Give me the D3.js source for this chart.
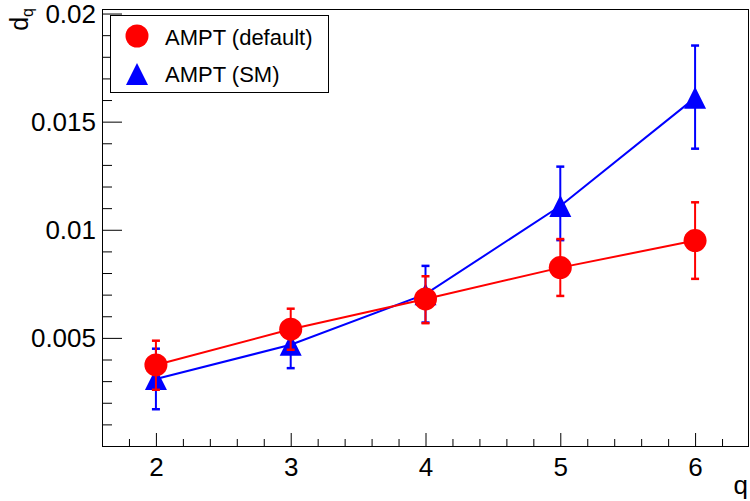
<!DOCTYPE html>
<html><head><meta charset="utf-8">
<script src="https://cdn.jsdelivr.net/npm/d3@7"></script>
<style>html,body{margin:0;padding:0;background:#fff;} svg{display:block;font-family:"Liberation Sans",Arial,Helvetica,sans-serif;}</style>
</head><body>
<svg id="c" width="750" height="501"></svg>
<script>
const qValues = [2, 3, 4, 5, 6];
const defaultValues = [0.00375, 0.0054, 0.0068, 0.00825, 0.0095];
const defaultErrHigh = [0.00112, 0.00095, 0.00105, 0.00132, 0.00177];
const defaultErrLow  = [0.00115, 0.00095, 0.00112, 0.00131, 0.00177];
const smValues = [0.0031, 0.00468, 0.00702, 0.0111, 0.0161];
const smErrHigh = [0.0014, 0.00108, 0.00131, 0.00182, 0.00242];
const smErrLow  = [0.0014, 0.00108, 0.00131, 0.00158, 0.00235];
const xTickValues = [2, 3, 4, 5, 6];
const yTickValues = [0.005, 0.01, 0.015, 0.02];
const yTickLabels = ["0.005", "0.01", "0.015", "0.02"];
const seriesNames = ["AMPT (default)", "AMPT (SM)"];

const svg = d3.select("#c");
const L = 102, R = 749, T = 9, B = 446;
const x = d3.scaleLinear().domain([1.6, 6.4]).range([L, R]);
const y = d3.scaleLinear().domain([0, 0.02021]).range([B, T]);

// frame
svg.append("rect").attr("x", L + 0.5).attr("y", T + 0.5).attr("width", R - L - 1).attr("height", B - T)
  .attr("fill", "none").attr("stroke", "#000").attr("stroke-width", 1);

// x axis ticks (inward)
const xMinor = d3.range(1.8, 6.4, 0.2).map(v => +v.toFixed(1)).filter(v => !xTickValues.includes(v));
const xAxisMajor = d3.axisBottom(x).tickValues(xTickValues).tickSizeInner(-13).tickSizeOuter(0).tickFormat("");
const xAxisMinor = d3.axisBottom(x).tickValues(xMinor).tickSizeInner(-7).tickSizeOuter(0).tickFormat("");
[xAxisMinor, xAxisMajor].forEach(ax => {
  const g = svg.append("g").attr("transform", `translate(0,${B})`).call(ax);
  g.select(".domain").remove();
  g.selectAll("line").attr("stroke", "#000");
});
const xl = svg.append("g").attr("transform", `translate(0,${B})`)
  .call(d3.axisBottom(x).tickValues(xTickValues).tickSize(0).tickPadding(0).tickFormat(d3.format("d")));
xl.select(".domain").remove();
xl.selectAll("text").attr("font-size", 26).attr("font-family", "Liberation Sans, Arial, sans-serif")
  .attr("fill", "#000").attr("dy", null).attr("y", 30);

// y axis ticks (inward)
const yMinor = d3.range(0.001, 0.0201, 0.001).map(v => +v.toFixed(3)).filter(v => !yTickValues.some(t => Math.abs(t - v) < 1e-9));
const yAxisMajor = d3.axisLeft(y).tickValues(yTickValues).tickSizeInner(-20).tickSizeOuter(0).tickFormat("");
const yAxisMinor = d3.axisLeft(y).tickValues(yMinor).tickSizeInner(-10).tickSizeOuter(0).tickFormat("");
[yAxisMinor, yAxisMajor].forEach(ax => {
  const g = svg.append("g").attr("transform", `translate(${L},0)`).call(ax);
  g.select(".domain").remove();
  g.selectAll("line").attr("stroke", "#000");
});
const yl = svg.append("g").attr("transform", `translate(${L},0)`)
  .call(d3.axisLeft(y).tickValues(yTickValues).tickSize(0).tickPadding(6).tickFormat((d, i) => yTickLabels[i]));
yl.select(".domain").remove();
yl.selectAll("text").attr("font-size", 26).attr("font-family", "Liberation Sans, Arial, sans-serif")
  .attr("fill", "#000").attr("dy", "0.35em");

// axis titles
svg.append("text").attr("x", 748).attr("y", 494).attr("text-anchor", "end")
  .attr("font-size", 26).text("q");
const yt = svg.append("text").attr("transform", `translate(28,8) rotate(-90)`).attr("text-anchor", "end")
  .attr("font-size", 25);
yt.append("tspan").text("d");
yt.append("tspan").attr("font-size", 16).attr("dy", 5).text("q");

// series
const series = [
  {name: seriesNames[1], vals: smValues, hi: smErrHigh, lo: smErrLow, color: "#0000ff", marker: "tri"},
  {name: seriesNames[0], vals: defaultValues, hi: defaultErrHigh, lo: defaultErrLow, color: "#ff0000", marker: "circ"}
];
const triPath = (cx, cy, s) => `M${cx},${cy - s}L${cx + s},${cy + s}L${cx - s},${cy + s}Z`;

series.forEach(s => {
  const pts = qValues.map((q, i) => ({q, v: s.vals[i], hi: s.hi[i], lo: s.lo[i]}));
  const g = svg.append("g");
  g.append("path").datum(pts)
    .attr("d", d3.line().x(d => x(d.q)).y(d => y(d.v)))
    .attr("fill", "none").attr("stroke", s.color).attr("stroke-width", 2);
  const eb = g.selectAll(".eb").data(pts).enter().append("g");
  eb.append("line").attr("x1", d => x(d.q)).attr("x2", d => x(d.q))
    .attr("y1", d => y(d.v + d.hi)).attr("y2", d => y(d.v - d.lo))
    .attr("stroke", s.color).attr("stroke-width", 2);
  [d => y(d.v + d.hi), d => y(d.v - d.lo)].forEach(fy => {
    eb.append("line").attr("x1", d => x(d.q) - 4).attr("x2", d => x(d.q) + 4)
      .attr("y1", fy).attr("y2", fy).attr("stroke", s.color).attr("stroke-width", 2.5);
  });
  if (s.marker === "circ") {
    g.selectAll(".m").data(pts).enter().append("circle")
      .attr("cx", d => x(d.q)).attr("cy", d => y(d.v)).attr("r", 11.5).attr("fill", s.color);
  } else {
    g.selectAll(".m").data(pts).enter().append("path")
      .attr("d", d => triPath(x(d.q), y(d.v), 11)).attr("fill", s.color);
  }
});

// legend
const lg = svg.append("g");
lg.append("rect").attr("x", 110.5).attr("y", 15.5).attr("width", 218).attr("height", 77)
  .attr("fill", "#fff").attr("stroke", "#000").attr("stroke-width", 1);
lg.append("circle").attr("cx", 137).attr("cy", 36).attr("r", 11.5).attr("fill", "#ff0000");
lg.append("path").attr("d", triPath(137, 74, 11)).attr("fill", "#0000ff");
lg.append("text").attr("x", 165).attr("y", 44.5).attr("font-size", 22).text(seriesNames[0]);
lg.append("text").attr("x", 165).attr("y", 81.5).attr("font-size", 22).text(seriesNames[1]);
</script>
</body></html>
